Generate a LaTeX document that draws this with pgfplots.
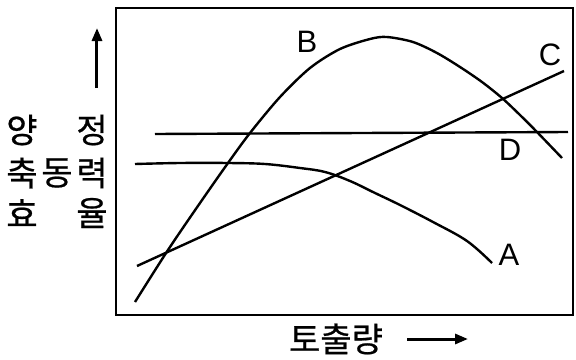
\documentclass[border=0pt]{standalone}
\usepackage{pgfplots}
\pgfplotsset{compat=1.18}
\usetikzlibrary{arrows.meta}
\usepackage{fontspec}
\setmainfont{Liberation Sans}
\newfontfamily\kr{Noto Sans CJK KR}[FakeBold=0.6]

\begin{document}
\begin{tikzpicture}
\begin{axis}[
  scale only axis,
  width=457pt, height=307pt,
  xmin=116, xmax=573, ymin=8, ymax=315,
  y dir=reverse,
  xtick=\empty, ytick=\empty,
  axis line style={line width=2.6pt},
  clip=false,
]
% B
\addplot[black, line width=2.4pt, smooth, tension=0.5] coordinates {
  (135,302) (168,250) (200,203) (228,163) (250,133) (280,97) (310,68)
  (340,49) (370,39) (387,37) (413,42) (437,53) (460,67) (482,82)
  (502,98) (520,115) (537,132) (562,158)
};
% C
\addplot[black, line width=2.4pt] coordinates {(137,266) (564,71)};
% D
\addplot[black, line width=2.4pt] coordinates {(155,134) (568,132)};
% A
\addplot[black, line width=2.4pt, smooth, tension=0.6] coordinates {
  (135,164) (180,163) (228,163) (265,164) (300,168) (325,172) (350,181)
  (375,193) (400,205) (433,222) (467,241) (492,263)
};

\path (axis cs:0,359) rectangle (axis cs:576,0);

\tikzset{lab/.style={font=\fontsize{31}{34}\selectfont, inner sep=0pt}}
\node[lab] at (axis cs:307,42) {B};
\node[lab] at (axis cs:550,55) {C};
\node[lab] at (axis cs:510,150) {D};
\node[lab] at (axis cs:509,255) {A};

\tikzset{kl/.style={font=\kr\fontsize{34}{36}\selectfont, inner sep=0pt}}
\node[kl] at (axis cs:22,130) {양};
\node[kl] at (axis cs:22,173) {축};
\node[kl] at (axis cs:22,213) {효};
\node[kl] at (axis cs:57,173) {동};
\node[kl] at (axis cs:92,130) {정};
\node[kl] at (axis cs:92,173) {력};
\node[kl] at (axis cs:92,213) {율};
\node[kl] at (axis cs:336,339) {토출량};

\draw[-{Triangle[length=13pt,width=10pt]}, line width=3pt] (axis cs:97,88) -- (axis cs:97,28);
\draw[-{Triangle[length=13pt,width=10pt]}, line width=3pt] (axis cs:407,339) -- (axis cs:468,339);
\end{axis}
\end{tikzpicture}
\end{document}
